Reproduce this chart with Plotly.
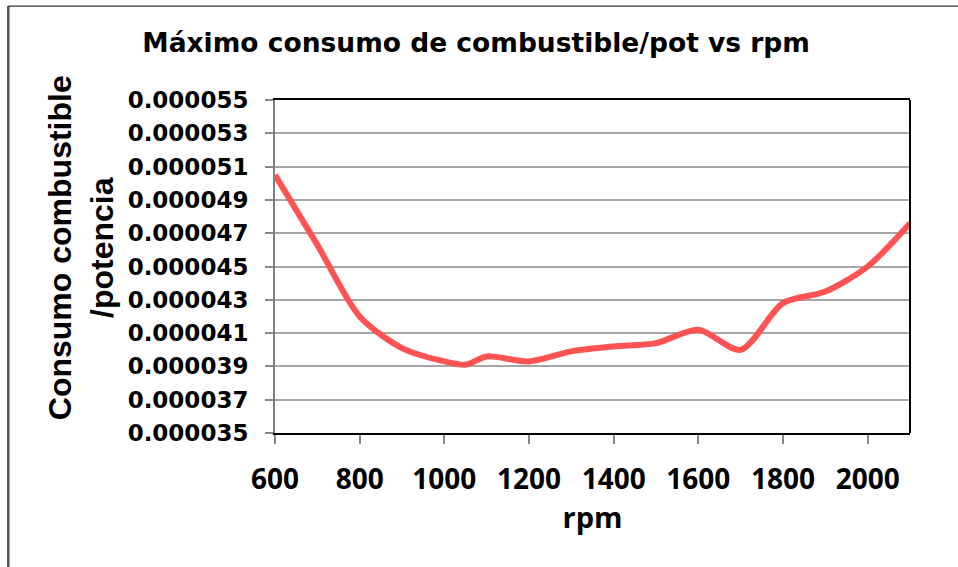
import plotly.graph_objects as go

# rpm values and fuel consumption / power
rpm = [600, 700, 800, 900, 1000, 1050, 1100, 1200, 1300, 1400, 1500, 1600, 1700, 1800, 1900, 2000, 2100]
consumo = [0.0000505, 0.0000463, 0.0000420, 0.0000401, 0.0000393, 0.0000391, 0.0000396, 0.0000393,
           0.0000399, 0.0000402, 0.0000404, 0.0000412, 0.0000400, 0.0000428, 0.0000435, 0.0000450, 0.0000476]

y_ticks = [0.000035 + 0.000002 * i for i in range(11)]
y_labels = ["%.6f" % v for v in y_ticks]
x_ticks = [600, 800, 1000, 1200, 1400, 1600, 1800, 2000]

fig = go.Figure()
fig.add_trace(go.Scatter(x=rpm, y=consumo, mode="lines",
                         line=dict(color="#ff5252", width=6, shape="spline", smoothing=0.8)))

fig.update_layout(
    width=958, height=567,
    margin=dict(l=275, r=48, t=100, b=134),
    paper_bgcolor="white", plot_bgcolor="white",
    showlegend=False,
    title=dict(text="<b>Máximo consumo de combustible/pot vs rpm</b>",
               x=0.497, xanchor="center", y=0.924, yanchor="middle",
               font=dict(family="DejaVu Sans", size=26.5, color="black")),
)

fig.update_xaxes(range=[600, 2100], tickvals=x_ticks, showgrid=False,
                 showline=True, linecolor="black", linewidth=2, mirror=True,
                 ticks="outside", ticklen=9, tickcolor="#888888", tickwidth=1.5,
                 ticklabelstandoff=11,
                 tickfont=dict(family="Open Sans", size=28, color="black", weight="bold"),
                 title=dict(text="<b>rpm</b>", standoff=12,
                            font=dict(family="Open Sans", size=29, color="black")))

fig.update_yaxes(range=[0.000035, 0.000055], tickvals=y_ticks, ticktext=y_labels,
                 showgrid=True, gridcolor="#a6a6a6", gridwidth=1.5,
                 showline=True, linecolor="#808080", linewidth=2,
                 ticks="outside", ticklen=8, tickcolor="#888888", tickwidth=1.5,
                 ticklabelstandoff=12,
                 tickfont=dict(family="DejaVu Sans", size=23, color="black", weight="bold"))

# right border of plot area
fig.add_shape(type="line", xref="paper", yref="paper", x0=1, x1=1, y0=0, y1=1,
              line=dict(color="black", width=2))

# y axis title (two lines)
fig.add_annotation(text="<b>Consumo combustible<br>/potencia</b>", xref="paper", yref="paper",
                   x=-0.305, y=0.556, xanchor="center", yanchor="middle",
                   textangle=-90, showarrow=False,
                   font=dict(family="Liberation Sans", size=32, color="black"))

# outer chart frame (left and top edges)
fig.add_shape(type="line", xref="paper", yref="paper", x0=-0.42, x1=-0.42, y0=-0.45, y1=1.282,
              line=dict(color="#555555", width=2.5))
fig.add_shape(type="line", xref="paper", yref="paper", x0=-0.42, x1=1.2, y0=1.282, y1=1.282,
              line=dict(color="black", width=1))

fig.write_html("out.html", config={"displayModeBar": False},
               post_script="document.body.style.margin='0px';")
